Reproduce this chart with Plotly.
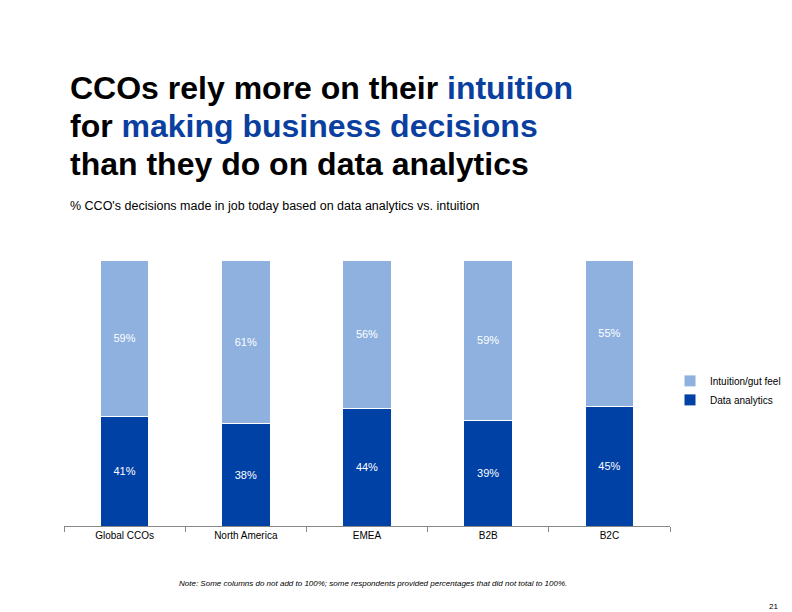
import plotly.graph_objects as go

categories = ["Global CCOs", "North America", "EMEA", "B2B", "B2C"]
data_analytics = [41, 38, 44, 39, 45]
intuition = [59, 61, 56, 59, 55]

dark_blue = "#0041a6"
light_blue = "#8eb1e0"
title_blue = "#0a3fa0"

fig = go.Figure()
fig.add_trace(go.Bar(
    x=categories, y=data_analytics, name="Data analytics",
    marker=dict(color=dark_blue, line=dict(color="white", width=1)),
    text=[f"{v}%" for v in data_analytics], textposition="inside",
    insidetextanchor="middle", textfont=dict(color="white", size=11, family="Liberation Sans"),
))
fig.add_trace(go.Bar(
    x=categories, y=intuition, name="Intuition/gut feel",
    marker=dict(color=light_blue, line=dict(color="white", width=1)),
    text=[f"{v}%" for v in intuition], textposition="inside",
    insidetextanchor="middle", textfont=dict(color="white", size=11, family="Liberation Sans"),
))

# three title lines, placed separately for tight line spacing
title_lines = [
    f"<b>CCOs rely more on their <span style='color:{title_blue}'>intuition</span></b>",
    f"<b>for <span style='color:{title_blue}'>making business decisions</span></b>",
    "<b>than they do on data analytics</b>",
]
annotations = []
for i, line in enumerate(title_lines):
    annotations.append(dict(
        text=line, xref="paper", yref="paper", x=0.007, y=1.0, yshift=172 - 38 * i,
        xanchor="left", yanchor="middle", align="left", showarrow=False,
        font=dict(size=32, family="Liberation Sans", color="black")))

annotations += [
    dict(text="% CCO's decisions made in job today based on data analytics vs. intuition",
         xref="paper", yref="paper", x=0.007, y=1.0, yshift=54, xanchor="left",
         yanchor="middle", showarrow=False, font=dict(size=12.5)),
    dict(text="<i>Note: Some columns do not add to 100%; some respondents provided percentages that did not total to 100%.</i>",
         xref="paper", yref="paper", x=0.51, y=0, yshift=-57, xanchor="center",
         yanchor="middle", showarrow=False, font=dict(size=8)),
    dict(text="21", xref="paper", yref="paper", x=1.17, y=0, yshift=-80,
         xanchor="center", yanchor="middle", showarrow=False, font=dict(size=8)),
]

fig.update_layout(
    width=792, height=612,
    barmode="stack", barnorm="percent", bargap=0.6,
    plot_bgcolor="white", paper_bgcolor="white",
    font=dict(family="Liberation Sans", color="black"),
    margin=dict(l=56, r=130, t=252, b=94),
    showlegend=True,
    legend=dict(x=1.0, y=0.6, xanchor="left", yanchor="top",
                traceorder="reversed", font=dict(size=10), itemwidth=30),
    xaxis=dict(showline=True, linecolor="#888", ticks="outside", tickson="boundaries",
               ticklen=5, tickcolor="#888", tickfont=dict(size=10)),
    yaxis=dict(visible=False, range=[0, 100]),
    uniformtext=dict(minsize=8, mode="show"),
    annotations=annotations,
)

fig.write_html("out.html")
